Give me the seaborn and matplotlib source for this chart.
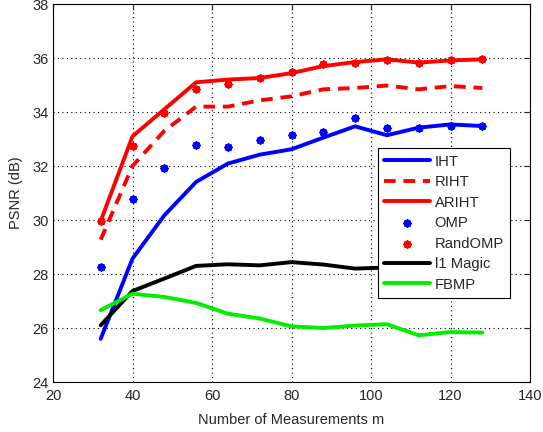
import numpy as np
import pandas as pd
import matplotlib
matplotlib.use("Agg")
import matplotlib.pyplot as plt
import seaborn as sns

# measurements m
m = [32, 40, 48, 56, 64, 72, 80, 88, 96, 104, 112, 120, 128]

# PSNR (dB)
iht = [25.6, 28.57, 30.17, 31.41, 32.09, 32.42, 32.62, 33.05, 33.47, 33.14, 33.42, 33.54, 33.48]
riht = [29.27, 32.0, 33.3, 34.2, 34.2, 34.43, 34.58, 34.84, 34.89, 34.98, 34.84, 34.96, 34.89]
ariht = [29.96, 33.1, 34.1, 35.1, 35.2, 35.26, 35.44, 35.7, 35.85, 35.95, 35.83, 35.91, 35.95]
omp = [28.26, 30.77, 31.93, 32.77, 32.69, 32.96, 33.14, 33.26, 33.76, 33.41, 33.41, 33.47, 33.48]
randomp = [29.96, 32.74, 33.98, 34.87, 35.05, 35.27, 35.5, 35.76, 35.83, 35.91, 35.8, 35.94, 35.96]
l1magic = [26.1, 27.37, 27.83, 28.30, 28.36, 28.32, 28.44, 28.35, 28.2, 28.24, 28.28, 28.3, 28.3]
fbmp = [26.66, 27.27, 27.15, 26.93, 26.53, 26.35, 26.06, 26.0, 26.09, 26.14, 25.73, 25.85, 25.83]

sns.set_style("white")
plt.rcParams['font.family'] = ['Liberation Sans', 'DejaVu Sans']

fig = plt.figure(figsize=(5.43, 4.32), dpi=100)
ax = fig.add_axes([53/543, 1 - 382/432, 477/543, 378/432])

lw = 2.8
sns.lineplot(x=m, y=iht, color='#0000ff', lw=lw, label='IHT', ax=ax)
sns.lineplot(x=m, y=riht, color='#ff0000', lw=lw, ls=(0, (3, 2)), label='RIHT', ax=ax)
sns.lineplot(x=m, y=ariht, color='#ff0000', lw=lw, label='ARIHT', ax=ax)
ast = (8, 2, 0)
sns.scatterplot(x=m, y=omp, color='#0000ff', marker=ast, s=16, linewidth=2.0,
                edgecolor='#0000ff', label='OMP', ax=ax, zorder=3)
sns.scatterplot(x=m, y=randomp, color='#ff0000', marker=ast, s=16, linewidth=2.0,
                edgecolor='#ff0000', label='RandOMP', ax=ax, zorder=3)
sns.lineplot(x=m, y=l1magic, color='black', lw=lw, label='l1 Magic', ax=ax)
sns.lineplot(x=m, y=fbmp, color='#00ee00', lw=lw, label='FBMP', ax=ax)

ax.set_xlim(20, 140)
ax.set_ylim(24, 38)
ax.set_xticks(range(20, 141, 20))
ax.set_yticks(range(24, 39, 2))
ax.grid(True, color='black', ls=(0, (1, 3)), lw=0.8)
ax.tick_params(direction='in', length=4, labelsize=10.5, top=True, right=True)
ax.tick_params(axis='x', pad=5)
ax.tick_params(axis='y', pad=3)
for s in ax.spines.values():
    s.set_color('black')
    s.set_linewidth(0.8)
ax.set_xlabel('Number of Measurements m', fontsize=10.5, labelpad=7)
ax.set_ylabel('PSNR (dB)', fontsize=10.5, labelpad=7)

leg = ax.legend(loc='upper left', bbox_to_anchor=(0.681, 0.619), fontsize=10.6,
                frameon=True, fancybox=False, edgecolor='black', framealpha=1,
                handlelength=3.1, handletextpad=0.3, labelspacing=0.44,
                borderpad=0.45, borderaxespad=0)
leg.get_frame().set_linewidth(0.8)
leg.set_zorder(5)

fig.savefig('out.png', dpi=100)
